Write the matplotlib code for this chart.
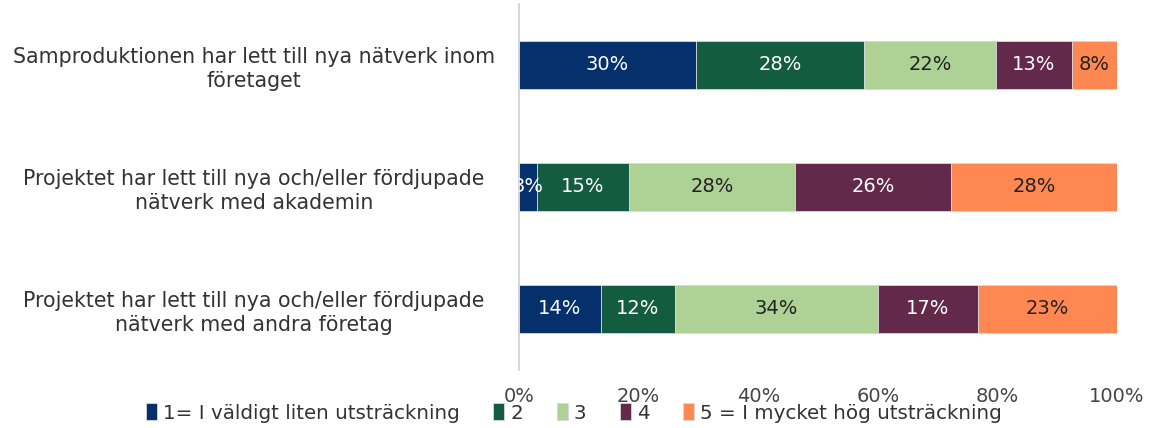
import matplotlib
matplotlib.use("Agg")
import matplotlib.pyplot as plt
import numpy as np

categories = [
    "Samproduktionen har lett till nya nätverk inom\nföretaget",
    "Projektet har lett till nya och/eller fördjupade\nnätverk med akademin",
    "Projektet har lett till nya och/eller fördjupade\nnätverk med andra företag",
]
series_names = [
    "1= I väldigt liten utsträckning",
    "2",
    "3",
    "4",
    "5 = I mycket hög utsträckning",
]
# share of respondents per answer (rows: series, columns: categories)
s1 = [0.296, 0.030, 0.137]
s2 = [0.281, 0.154, 0.124]
s3 = [0.221, 0.278, 0.339]
s4 = [0.126, 0.261, 0.168]
s5 = [0.076, 0.277, 0.232]
values = [s1, s2, s3, s4, s5]
xtick_values = [0, 0.2, 0.4, 0.6, 0.8, 1.0]
xtick_labels = ["0%", "20%", "40%", "60%", "80%", "100%"]

colors = ["#06306B", "#145C40", "#AED195", "#63294A", "#FF8852"]
text_colors = ["#FFFFFF", "#FFFFFF", "#222222", "#FFFFFF", "#222222"]

plt.rcParams["font.family"] = ["DejaVu Sans"]

fig = plt.figure(figsize=(11.52, 4.28), dpi=100)
ax = fig.add_axes([519 / 1152, 1 - 370 / 428, (1117 - 519) / 1152, 366 / 428])

y = np.arange(len(categories))
left = np.zeros(len(categories))
for name, vals, col, tcol in zip(series_names, values, colors, text_colors):
    vals = np.array(vals)
    ax.barh(y, vals, left=left, height=0.4, color=col,
            edgecolor="#d8d8d8", linewidth=0.6, label=name)
    for yi, l, v in zip(y, left, vals):
        ax.text(l + v / 2, yi, f"{round(v * 100):.0f}%", ha="center", va="center",
                color=tcol, fontsize=14, clip_on=True)
    left += vals

ax.set_xlim(0, 1)
ax.set_ylim(2.5, -0.5)
ax.set_yticks(y)
ax.set_yticklabels(categories, fontsize=14.8, color="#333333", ha="center",
                   linespacing=1.25)
ax.tick_params(axis="y", length=0, pad=(519 - 254) * 0.72)
ax.set_xticks(xtick_values)
ax.set_xticklabels(xtick_labels, fontsize=14, color="#444444")
ax.tick_params(axis="x", length=0, pad=12)

for side in ["top", "right", "bottom"]:
    ax.spines[side].set_visible(False)
ax.spines["left"].set_color("#d0d0d0")
ax.spines["left"].set_linewidth(1.2)

fig.legend(loc="center", bbox_to_anchor=(574 / 1152, 1 - 413 / 428),
           ncol=5, frameon=False, fontsize=14.3, handlelength=0.55,
           handleheight=0.9, handletextpad=0.3, columnspacing=1.7,
           labelcolor="#333333")

fig.savefig("out.png", dpi=100)
